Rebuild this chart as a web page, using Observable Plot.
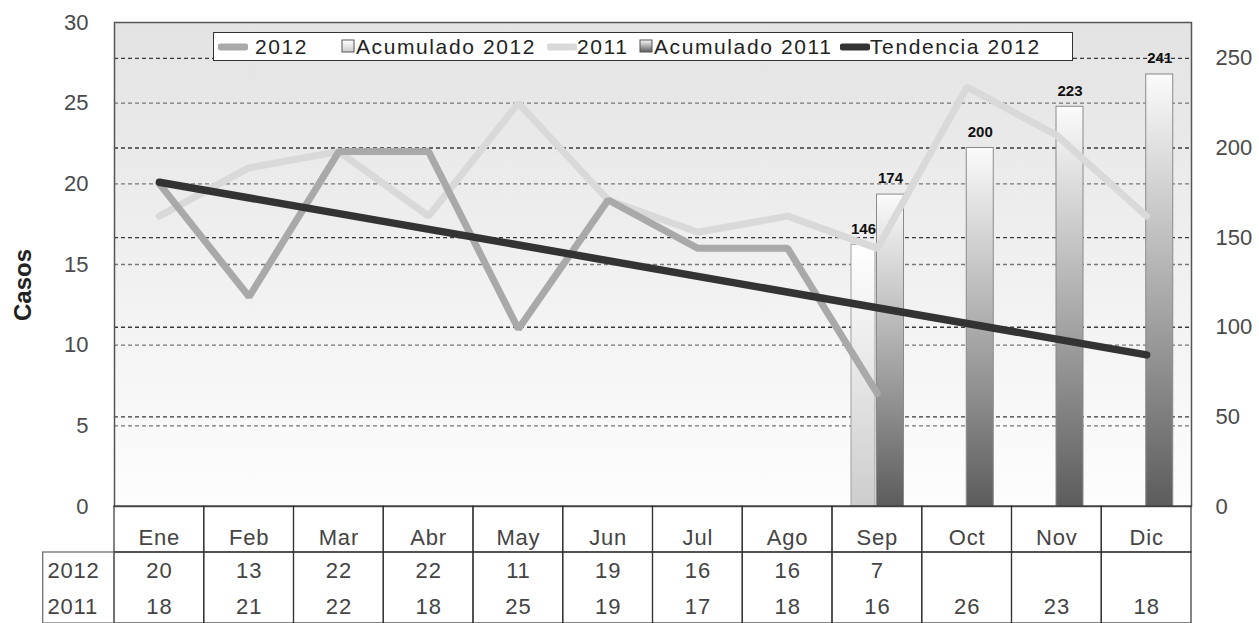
<!DOCTYPE html>
<html>
<head>
<meta charset="utf-8">
<script src="https://cdn.jsdelivr.net/npm/d3@7"></script>
<script src="https://cdn.jsdelivr.net/npm/@observablehq/plot@0.6"></script>
<style>
  body { margin: 0; background: #fff; }
  #wrap { position: relative; width: 1259px; height: 623px; overflow: hidden; font-family: "Liberation Sans", Arial, sans-serif; }
  #chart, #table { position: absolute; left: 0; }
  #chart { top: 0; }
  #table { top: 506px; }
  #legend { position: absolute; left: 213px; top: 32px; width: 858px; height: 27px; background: #fff; border: 1.5px solid #333;
            font-size: 21px; color: #222; letter-spacing: 1.6px; white-space: nowrap; }
  #legend .item { position: absolute; top: 0; height: 27px; display: flex; align-items: center; }
  #legend svg { display: block; }
  #ytitle { position: absolute; left: 23px; top: 285px; transform: translate(-50%, -50%) rotate(-90deg);
            font-weight: bold; font-size: 24px; color: #222; white-space: nowrap; }
</style>
</head>
<body>
<svg width="0" height="0" style="position:absolute">
  <defs>
    <linearGradient id="bgG" x1="0" y1="0" x2="0" y2="1">
      <stop offset="0" stop-color="#e3e3e3"/>
      <stop offset="1" stop-color="#fdfdfd"/>
    </linearGradient>
    <linearGradient id="g12" x1="0" y1="0" x2="0" y2="1">
      <stop offset="0" stop-color="#ffffff"/>
      <stop offset="1" stop-color="#cdcdcd"/>
    </linearGradient>
    <linearGradient id="g11" x1="0" y1="0" x2="0" y2="1">
      <stop offset="0" stop-color="#fbfbfb"/>
      <stop offset="0.45" stop-color="#b4b4b4"/>
      <stop offset="1" stop-color="#5c5c5c"/>
    </linearGradient>
  </defs>
</svg>
<div id="wrap">
  <div id="chart"></div>
  <div id="table"></div>
  <div id="legend"></div>
  <div id="ytitle"></div>
</div>
<script>
// ---- data ----
const months = ["Ene", "Feb", "Mar", "Abr", "May", "Jun", "Jul", "Ago", "Sep", "Oct", "Nov", "Dic"];
const casos2012 = [20, 13, 22, 22, 11, 19, 16, 16, 7];
const casos2011 = [18, 21, 22, 18, 25, 19, 17, 18, 16, 26, 23, 18];
const acum2012Months = ["Sep"];
const acum2012 = [146];
const acum2011Months = ["Sep", "Oct", "Nov", "Dic"];
const acum2011 = [174, 200, 223, 241];
const trendMonths = ["Ene", "Dic"];
const trend2012 = [20.1, 9.4];
const leftTicks = [0, 5, 10, 15, 20, 25, 30];
const rightTicks = [0, 50, 100, 150, 200, 250];
const leftMax = 30;
const rightMax = 270;
const rowLabels = ["2012", "2011"];
const yTitle = "Casos";
const legendLabels = ["2012", "Acumulado 2012", "2011", "Acumulado 2011", "Tendencia 2012"];

// ---- styling / layout ----
const col2012 = "#a9a9a9", col2011 = "#d9d9d9", colTrend = "#333333";
const k = rightMax / leftMax;
const W = 1259, mL = 114, mR = 68;
const bw = (W - mL - mR) / months.length;
const font = "Liberation Sans, Arial, sans-serif";

const d2012 = casos2012.map((v, i) => ({month: months[i], value: v}));
const d2011 = casos2011.map((v, i) => ({month: months[i], value: v}));
const dA12 = acum2012.map((v, i) => ({month: acum2012Months[i], value: v}));
const dA11 = acum2011.map((v, i) => ({month: acum2011Months[i], value: v}));
const dTrend = trend2012.map((v, i) => ({month: trendMonths[i], value: v}));

const chart = Plot.plot({
  width: W, height: 623,
  marginTop: 22, marginBottom: 117, marginLeft: mL, marginRight: mR,
  style: {fontFamily: font, fontSize: "22px", color: "#4a4a4a", background: "transparent", overflow: "visible"},
  x: {type: "band", domain: months, padding: 0, round: false, axis: null},
  y: {domain: [0, leftMax], axis: null},
  marks: [
    Plot.frame({fill: "url(#bgG)"}),
    Plot.ruleY(leftTicks.filter(t => t > 0 && t < leftMax), {stroke: "#777", strokeDasharray: "4,3", strokeWidth: 1.4}),
    Plot.ruleY(rightTicks.filter(t => t > 0).map(t => t / k), {stroke: "#3a3a3a", strokeDasharray: "4,3", strokeWidth: 1.4}),
    Plot.barY(dA12, {x: "month", y: d => d.value / k, fill: "url(#g12)", stroke: "#a0a0a0", strokeWidth: 1, insetLeft: 19, insetRight: bw - 43}),
    Plot.barY(dA11, {x: "month", y: d => d.value / k, fill: "url(#g11)", stroke: "#8a8a8a", strokeWidth: 1, insetLeft: 44.5, insetRight: bw - 71.5}),
    Plot.line(d2011, {x: "month", y: "value", stroke: col2011, strokeWidth: 7, strokeLinejoin: "miter"}),
    Plot.line(d2012, {x: "month", y: "value", stroke: col2012, strokeWidth: 7, strokeLinejoin: "miter"}),
    Plot.line(dTrend, {x: "month", y: "value", stroke: colTrend, strokeWidth: 7.5}),
    Plot.text(dA12, {x: "month", y: d => d.value / k, text: d => String(d.value), dy: -16, dx: 31 - bw / 2, fontWeight: "bold", fontSize: 15, fill: "#111"}),
    Plot.text(dA11, {x: "month", y: d => d.value / k, text: d => String(d.value), dy: -16, dx: 58 - bw / 2, fontWeight: "bold", fontSize: 15, fill: "#111"}),
    Plot.frame({stroke: "#555", strokeWidth: 1.5}),
    Plot.text(leftTicks, {y: d => d, text: d => String(d), frameAnchor: "left", textAnchor: "end", dx: -26, fill: "#4a4a4a"}),
    Plot.text(rightTicks, {y: d => d / k, text: d => String(d), frameAnchor: "right", textAnchor: "start", dx: 24, fill: "#4a4a4a"})
  ]
});
document.getElementById("chart").appendChild(chart);
document.getElementById("ytitle").textContent = yTitle;

// ---- data table below the chart ----
const tableH = 117, headerH = 46, rowH = (tableH - headerH) / 2;
const tableCells = [];
rowLabels.forEach((r, ri) => {
  const vals = ri === 0 ? casos2012 : casos2011;
  months.forEach((m, i) => tableCells.push({month: m, row: ri, value: vals[i]}));
});

const table = Plot.plot({
  width: W, height: tableH,
  marginTop: 0, marginBottom: 0, marginLeft: mL, marginRight: mR,
  style: {fontFamily: font, fontSize: "22px", color: "#444", background: "transparent", overflow: "visible", letterSpacing: "0.8px"},
  x: {type: "band", domain: months, padding: 0, round: false, axis: null},
  y: {domain: [0, tableH], range: [0, tableH], axis: null},
  marks: [
    Plot.barY(months, {x: d => d, y1: 0, y2: headerH, stroke: "#333", strokeWidth: 1.2, fill: "none"}),
    Plot.barY(months, {x: d => d, y1: headerH, y2: tableH, stroke: "#333", strokeWidth: 1.2, fill: "none"}),
    Plot.barY([rowLabels[0]], {x: () => months[0], y1: headerH, y2: tableH, stroke: "#666", strokeWidth: 1.2, fill: "none",
      insetLeft: -71.3, insetRight: bw}),
    Plot.text(months, {x: d => d, y: headerH * 0.68, text: d => d, fill: "#444"}),
    Plot.text(tableCells.filter(d => d.value != null), {x: "month", y: d => headerH + rowH * (d.row + 0.5) + 1, text: d => String(d.value), fill: "#444"}),
    Plot.text(rowLabels.map((r, i) => ({r, i})), {y: d => headerH + rowH * (d.i + 0.5) + 1, text: "r", frameAnchor: "left", textAnchor: "start", dx: -67, fill: "#444"})
  ]
});
document.getElementById("table").appendChild(table);

// ---- legend ----
const legendKinds = [
  {kind: "line", color: col2012, sw: 218, tx: 255},
  {kind: "box", fill: "url(#g12)", sw: 341, tx: 356},
  {kind: "line", color: col2011, sw: 547, tx: 577},
  {kind: "box", fill: "url(#g11)", sw: 639, tx: 654},
  {kind: "line", color: colTrend, sw: 840, tx: 870}
];
const leg = document.getElementById("legend");
legendLabels.forEach((lab, i) => {
  const kd = legendKinds[i];
  const s = document.createElement("div");
  s.className = "item";
  s.style.left = (kd.sw - 214) + "px";
  s.innerHTML = kd.kind === "line"
    ? `<svg width="30" height="12"><line x1="3" y1="6" x2="27" y2="6" stroke="${kd.color}" stroke-width="7" stroke-linecap="round"/></svg>`
    : `<svg width="15" height="15"><rect x="1" y="1" width="12" height="12" fill="${kd.fill}" stroke="#555" stroke-width="1"/></svg>`;
  leg.appendChild(s);
  const t = document.createElement("div");
  t.className = "item";
  t.style.left = (kd.tx - 214) + "px";
  t.textContent = lab;
  leg.appendChild(t);
});
</script>
</body>
</html>
